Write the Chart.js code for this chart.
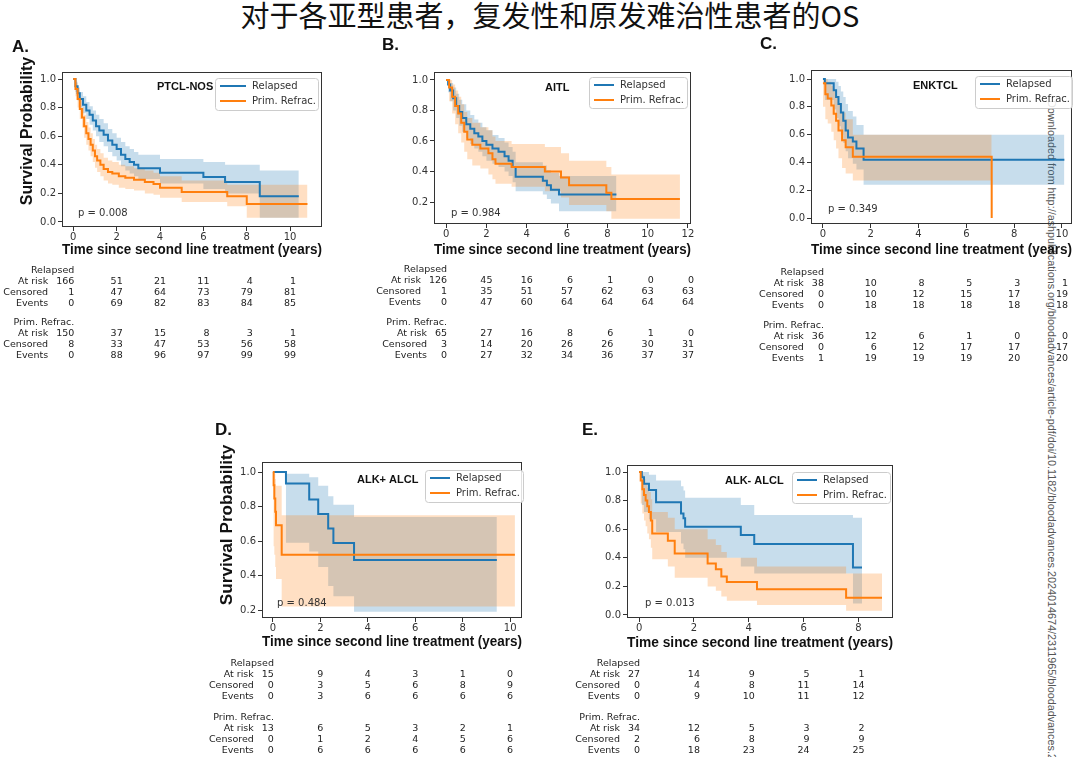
<!DOCTYPE html>
<html>
<head>
<meta charset="utf-8">
<script src="https://cdn.jsdelivr.net/npm/chart.js@4.4.1/dist/chart.umd.min.js"></script>
<style>
  body { margin: 0; background: #fff; width: 1080px; height: 757px; overflow: hidden; position: relative; }
  #title { position: absolute; left: 10px; top: -3px; width: 1080px; text-align: center;
           font: 29px/34px "Noto Sans CJK SC", sans-serif; color: #111; }
  #wm { position: absolute; left: 1058px; top: 100px; transform-origin: 0 0; transform: rotate(90deg);
        white-space: nowrap; font: 10.8px/13px "Liberation Sans", Arial, sans-serif; color: #555; }
  canvas { position: absolute; }
</style>
</head>
<body>
<div id="title">对于各亚型患者，复发性和原发难治性患者的OS</div>
<div id="wm">Downloaded from http://ashpublications.org/bloodadvances/article-pdf/doi/10.1182/bloodadvances.2024014674/2311965/bloodadvances.2</div>
<script>
// ---- ticks ----
const ticksA = [0, 2, 4, 6, 8, 10];
const ticksB = [0, 2, 4, 6, 8, 10, 12];
const ticksE = [0, 2, 4, 6, 8];
const yTicksFull = [0, 0.2, 0.4, 0.6, 0.8, 1.0];
const yTicksUpper = [0.2, 0.4, 0.6, 0.8, 1.0];

// ---- A. PTCL-NOS ----
const relA_t = [0, 0.1, 0.2, 0.3, 0.45, 0.6, 0.75, 0.9, 1.05, 1.2, 1.4, 1.6, 1.8, 2.0, 2.2, 2.4, 2.6, 2.8, 3.0, 4.0, 6.0, 7.0, 8.6, 10.4];
const relA_s = [1.0, 0.95, 0.9, 0.86, 0.82, 0.78, 0.75, 0.71, 0.67, 0.64, 0.61, 0.57, 0.54, 0.51, 0.47, 0.44, 0.42, 0.40, 0.375, 0.345, 0.315, 0.28, 0.18, 0.18];
const relA_hi = [1.0, 0.98, 0.94, 0.91, 0.88, 0.84, 0.81, 0.78, 0.75, 0.72, 0.69, 0.65, 0.62, 0.59, 0.56, 0.53, 0.51, 0.49, 0.47, 0.44, 0.42, 0.40, 0.36, 0.36];
const relA_lo = [1.0, 0.91, 0.85, 0.80, 0.76, 0.72, 0.68, 0.64, 0.60, 0.56, 0.53, 0.49, 0.46, 0.43, 0.39, 0.36, 0.34, 0.32, 0.30, 0.27, 0.23, 0.20, 0.03, 0.03];
const refA_t = [0, 0.1, 0.2, 0.3, 0.4, 0.5, 0.6, 0.7, 0.8, 0.9, 1.0, 1.1, 1.25, 1.4, 1.6, 1.8, 2.1, 2.4, 2.8, 3.3, 3.7, 4.0, 5.0, 7.1, 8.0, 10.8];
const refA_s = [1.0, 0.93, 0.86, 0.79, 0.73, 0.67, 0.62, 0.58, 0.54, 0.50, 0.46, 0.43, 0.40, 0.37, 0.35, 0.34, 0.32, 0.31, 0.295, 0.28, 0.265, 0.24, 0.21, 0.18, 0.125, 0.125];
const refA_hi = [1.0, 0.97, 0.92, 0.86, 0.80, 0.75, 0.70, 0.66, 0.62, 0.58, 0.54, 0.51, 0.48, 0.45, 0.43, 0.42, 0.40, 0.39, 0.375, 0.36, 0.345, 0.32, 0.29, 0.26, 0.26, 0.26];
const refA_lo = [1.0, 0.88, 0.80, 0.72, 0.66, 0.59, 0.54, 0.50, 0.46, 0.42, 0.38, 0.35, 0.32, 0.29, 0.27, 0.26, 0.24, 0.23, 0.22, 0.20, 0.19, 0.17, 0.14, 0.11, 0.03, 0.03];
const relA_risk = [166, 51, 21, 11, 4, 1];
const relA_cens = [1, 47, 64, 73, 79, 81];
const relA_evt = [0, 69, 82, 83, 84, 85];
const refA_risk = [150, 37, 15, 8, 3, 1];
const refA_cens = [8, 33, 47, 53, 56, 58];
const refA_evt = [0, 88, 96, 97, 99, 99];

// ---- B. AITL ----
const relB_t = [0, 0.1, 0.2, 0.35, 0.5, 0.65, 0.8, 1.0, 1.2, 1.4, 1.6, 1.8, 2.0, 2.3, 2.6, 2.9, 3.1, 3.3, 3.45, 4.8, 5.0, 5.2, 5.6, 8.45];
const relB_s = [1.0, 0.97, 0.93, 0.88, 0.83, 0.79, 0.75, 0.71, 0.68, 0.65, 0.63, 0.60, 0.575, 0.55, 0.53, 0.50, 0.47, 0.43, 0.365, 0.34, 0.31, 0.28, 0.25, 0.25];
const relB_hi = [1.0, 1.0, 0.98, 0.95, 0.91, 0.87, 0.84, 0.80, 0.77, 0.74, 0.72, 0.69, 0.67, 0.64, 0.62, 0.59, 0.56, 0.53, 0.46, 0.44, 0.41, 0.39, 0.37, 0.37];
const relB_lo = [1.0, 0.92, 0.86, 0.80, 0.75, 0.70, 0.66, 0.62, 0.58, 0.55, 0.53, 0.50, 0.47, 0.45, 0.43, 0.40, 0.37, 0.33, 0.27, 0.25, 0.22, 0.19, 0.14, 0.14];
const refB_t = [0, 0.15, 0.3, 0.45, 0.6, 0.75, 0.9, 1.05, 1.3, 1.7, 2.1, 2.3, 2.45, 3.25, 4.9, 5.7, 6.1, 7.95, 8.2, 11.6];
const refB_s = [1.0, 0.95, 0.89, 0.83, 0.78, 0.72, 0.66, 0.61, 0.575, 0.55, 0.52, 0.48, 0.45, 0.43, 0.40, 0.36, 0.31, 0.26, 0.22, 0.22];
const refB_hi = [1.0, 1.0, 0.97, 0.93, 0.89, 0.84, 0.79, 0.75, 0.72, 0.69, 0.67, 0.63, 0.60, 0.58, 0.56, 0.52, 0.47, 0.43, 0.38, 0.38];
const refB_lo = [1.0, 0.86, 0.78, 0.71, 0.65, 0.59, 0.53, 0.48, 0.44, 0.42, 0.38, 0.35, 0.32, 0.30, 0.27, 0.23, 0.18, 0.14, 0.09, 0.09];
const relB_risk = [126, 45, 16, 6, 1, 0, 0];
const relB_cens = [1, 35, 51, 57, 62, 63, 63];
const relB_evt = [0, 47, 60, 64, 64, 64, 64];
const refB_risk = [65, 27, 16, 8, 6, 1, 0];
const refB_cens = [3, 14, 20, 26, 26, 30, 31];
const refB_evt = [0, 27, 32, 34, 36, 37, 37];

// ---- C. ENKTCL ----
const relC_t = [0, 0.08, 0.45, 0.55, 0.65, 0.75, 0.85, 0.95, 1.05, 1.25, 1.4, 1.7, 10.1];
const relC_s = [1.0, 0.97, 0.92, 0.87, 0.82, 0.76, 0.70, 0.63, 0.58, 0.55, 0.50, 0.42, 0.42];
const relC_hi = [1.0, 1.0, 1.0, 0.98, 0.95, 0.91, 0.87, 0.82, 0.77, 0.73, 0.67, 0.60, 0.60];
const relC_lo = [1.0, 0.85, 0.78, 0.72, 0.66, 0.60, 0.54, 0.48, 0.43, 0.39, 0.35, 0.24, 0.24];
const refC_t = [0, 0.1, 0.2, 0.35, 0.45, 0.55, 0.65, 0.8, 0.95, 1.25, 7.06];
const refC_s = [0.97, 0.89, 0.86, 0.81, 0.75, 0.70, 0.63, 0.56, 0.51, 0.44, 0.0];
const refC_hi = [1.0, 1.0, 0.98, 0.95, 0.91, 0.87, 0.82, 0.76, 0.71, 0.60, 0.60];
const refC_lo = [0.8, 0.71, 0.68, 0.62, 0.56, 0.50, 0.43, 0.36, 0.32, 0.27, 0.27];
const relC_risk = [38, 10, 8, 5, 3, 1];
const relC_cens = [0, 10, 12, 15, 17, 19];
const relC_evt = [0, 18, 18, 18, 18, 18];
const refC_risk = [36, 12, 6, 1, 0, 0];
const refC_cens = [0, 6, 12, 17, 17, 17];
const refC_evt = [1, 19, 19, 19, 20, 20];

// ---- D. ALK+ ALCL ----
const relD_t = [0, 0.55, 1.53, 1.91, 2.33, 2.55, 3.42, 9.44];
const relD_s = [1.0, 0.933, 0.84, 0.756, 0.672, 0.588, 0.49, 0.49];
const relD_hi = [1.0, 0.99, 0.97, 0.92, 0.86, 0.81, 0.74, 0.74];
const relD_lo = [1.0, 0.59, 0.54, 0.45, 0.34, 0.28, 0.19, 0.19];
const refD_t = [0, 0.03, 0.06, 0.1, 0.13, 0.37, 10.2];
const refD_s = [1.0, 0.923, 0.846, 0.769, 0.692, 0.52, 0.52];
const refD_hi = [1.0, 1.0, 0.99, 0.96, 0.92, 0.75, 0.75];
const refD_lo = [1.0, 0.57, 0.52, 0.45, 0.38, 0.22, 0.22];
const relD_risk = [15, 9, 4, 3, 1, 0];
const relD_cens = [0, 3, 5, 6, 8, 9];
const relD_evt = [0, 3, 6, 6, 6, 6];
const refD_risk = [13, 6, 5, 3, 2, 1];
const refD_cens = [0, 1, 2, 4, 5, 6];
const refD_evt = [0, 6, 6, 6, 6, 6];

// ---- E. ALK- ALCL ----
const relE_t = [0, 0.1, 0.18, 0.36, 0.62, 1.53, 1.62, 1.68, 3.71, 4.2, 7.8, 8.13];
const relE_s = [1.0, 0.963, 0.917, 0.874, 0.788, 0.71, 0.676, 0.617, 0.56, 0.497, 0.333, 0.333];
const relE_hi = [1.0, 1.0, 1.0, 0.98, 0.94, 0.90, 0.87, 0.82, 0.77, 0.70, 0.68, 0.68];
const relE_lo = [1.0, 0.77, 0.72, 0.67, 0.58, 0.50, 0.46, 0.40, 0.34, 0.29, 0.08, 0.08];
const refE_t = [0, 0.06, 0.12, 0.18, 0.24, 0.3, 0.36, 0.43, 0.48, 1.05, 1.3, 2.5, 2.8, 3.0, 3.2, 4.3, 7.55, 8.86];
const refE_s = [1.0, 0.94, 0.88, 0.84, 0.80, 0.76, 0.72, 0.66, 0.57, 0.52, 0.43, 0.36, 0.32, 0.27, 0.23, 0.18, 0.12, 0.12];
const refE_hi = [1.0, 1.0, 0.98, 0.95, 0.92, 0.89, 0.86, 0.81, 0.72, 0.68, 0.60, 0.53, 0.49, 0.44, 0.40, 0.34, 0.29, 0.29];
const refE_lo = [1.0, 0.78, 0.71, 0.66, 0.62, 0.57, 0.53, 0.47, 0.39, 0.34, 0.26, 0.20, 0.17, 0.13, 0.10, 0.07, 0.03, 0.03];
const relE_risk = [27, 14, 9, 5, 1];
const relE_cens = [0, 4, 8, 11, 14];
const relE_evt = [0, 9, 10, 11, 12];
const refE_risk = [34, 12, 5, 3, 2];
const refE_cens = [2, 6, 8, 9, 9];
const refE_evt = [0, 18, 23, 24, 25];

const BLUE = "#1f77b4";
const ORANGE = "#ff7f0e";
const BLUE_BAND = "rgba(31, 119, 180, 0.25)";
const ORANGE_BAND = "rgba(255, 127, 14, 0.25)";
const TICK_FONT = "'DejaVu Sans', sans-serif";
const BOLD_FONT = "'Liberation Sans', Arial, sans-serif";

// layout positions are page pixels
const panels = [
  {
    letter: "A.", letterPos: [12, 52], subtype: "PTCL-NOS", subPos: [157, 87], p: "p = 0.008", pPos: [78, 213],
    box: [0, 30, 345, 340], area: [62, 72, 322, 227], xTitleY: 250, yTitle: [27.5, 131, 15.9],
    xRange: [-0.52, 11.47], yRange: [-0.035, 1.049], xTicks: ticksA, yTicks: yTicksFull,
    legend: [215, 78, 103, 32, 37], tableY: [271, 323],
    rel: [relA_t, relA_s, relA_hi, relA_lo], ref: [refA_t, refA_s, refA_hi, refA_lo],
    relTable: [relA_risk, relA_cens, relA_evt], refTable: [refA_risk, refA_cens, refA_evt]
  },
  {
    letter: "B.", letterPos: [382, 50], subtype: "AITL", subPos: [545, 88], p: "p = 0.984", pPos: [451, 213],
    box: [360, 30, 355, 340], area: [434, 72, 691, 224], xTitleY: 250, yTitle: null,
    xRange: [-0.6, 12.15], yRange: [0.056, 1.052], xTicks: ticksB, yTicks: yTicksUpper,
    legend: [589, 77, 98, 31, 31], tableY: [270, 323],
    rel: [relB_t, relB_s, relB_hi, relB_lo], ref: [refB_t, refB_s, refB_hi, refB_lo],
    relTable: [relB_risk, relB_cens, relB_evt], refTable: [refB_risk, refB_cens, refB_evt]
  },
  {
    letter: "C.", letterPos: [760, 49], subtype: "ENKTCL", subPos: [913, 86], p: "p = 0.349", pPos: [828, 209],
    box: [720, 30, 360, 340], area: [811, 70, 1072, 224], xTitleY: 250, yTitle: null,
    xRange: [-0.5, 10.42], yRange: [-0.043, 1.065], xTicks: ticksA, yTicks: yTicksFull,
    legend: [975, 76, 97, 32, 31], tableY: [273, 326],
    rel: [relC_t, relC_s, relC_hi, relC_lo], ref: [refC_t, refC_s, refC_hi, refC_lo],
    relTable: [relC_risk, relC_cens, relC_evt], refTable: [refC_risk, refC_cens, refC_evt]
  },
  {
    letter: "D.", letterPos: [215, 435], subtype: "ALK+ ALCL", subPos: [357, 480], p: "p = 0.484", pPos: [277, 603],
    box: [200, 410, 340, 347], area: [262, 462, 522, 618], xTitleY: 642, yTitle: [227.5, 525, 17.2],
    xRange: [-0.46, 10.5], yRange: [0.154, 1.058], xTicks: ticksA, yTicks: yTicksUpper,
    legend: [425, 470, 98, 32, 31], tableY: [664, 718],
    rel: [relD_t, relD_s, relD_hi, relD_lo], ref: [refD_t, refD_s, refD_hi, refD_lo],
    relTable: [relD_risk, relD_cens, relD_evt], refTable: [refD_risk, refD_cens, refD_evt]
  },
  {
    letter: "E.", letterPos: [582, 435], subtype: "ALK- ALCL", subPos: [725, 481], p: "p = 0.013", pPos: [645, 603],
    box: [565, 410, 345, 347], area: [627, 465, 893, 618], xTitleY: 643, yTitle: null,
    xRange: [-0.44, 9.26], yRange: [-0.021, 1.049], xTicks: ticksE, yTicks: yTicksFull,
    legend: [792, 472, 98, 31, 31], tableY: [664, 718],
    rel: [relE_t, relE_s, relE_hi, relE_lo], ref: [refE_t, refE_s, refE_hi, refE_lo],
    relTable: [relE_risk, relE_cens, relE_evt], refTable: [refE_risk, refE_cens, refE_evt]
  }
];

function series(times, values) {
  return times.map((t, i) => ({ x: t, y: values[i] }));
}

function lineSet(label, data, color, order) {
  return { label, data, borderColor: color, borderWidth: 2, pointRadius: 0, stepped: true, fill: false, order };
}

function bandSet(data, fill, color, order) {
  return {
    label: "", data, borderColor: "rgba(0,0,0,0)", borderWidth: 1, pointRadius: 0,
    stepped: true, fill, backgroundColor: color, order
  };
}

function drawTable(ctx, xs, cfg, oy) {
  const rowNames = ["At risk", "Censored", "Events"];
  const groups = [["Relapsed", cfg.relTable, cfg.tableY[0]], ["Prim. Refrac.", cfg.refTable, cfg.tableY[1]]];
  ctx.font = "9.5px " + TICK_FONT;
  ctx.fillStyle = "#222";
  ctx.textBaseline = "middle";
  ctx.textAlign = "right";
  const x0 = xs.getPixelForValue(cfg.xTicks[0]) + 1;
  groups.forEach(([name, rows, gy]) => {
    const y = gy - oy;
    ctx.fillText(name, x0, y);
    const w0 = Math.max(...rows.map((r) => ctx.measureText(String(r[0])).width));
    rows.forEach((r, ri) => {
      const ry = y + 11 + ri * 10.7;
      ctx.fillText(rowNames[ri], x0 - w0 - 8, ry);
      ctx.fillText(String(r[0]), x0, ry);
    });
    for (let c = 1; c < cfg.xTicks.length; c += 1) {
      const px = xs.getPixelForValue(cfg.xTicks[c]);
      const w = Math.max(...rows.map((r) => ctx.measureText(String(r[c])).width));
      rows.forEach((r, ri) => ctx.fillText(String(r[c]), px + w / 2, y + 11 + ri * 10.7));
    }
  });
}

function decor(cfg) {
  const [ox, oy] = cfg.box;
  return {
    id: "decor",
    afterDraw(chart) {
      const ctx = chart.ctx;
      const a = chart.chartArea;
      ctx.save();
      // axes frame
      ctx.strokeStyle = "#333";
      ctx.lineWidth = 1;
      ctx.strokeRect(Math.round(a.left) + 0.5, Math.round(a.top) + 0.5,
        Math.round(a.right - a.left) - 1, Math.round(a.bottom - a.top) - 1);

      // legend box
      const [lx, ly, lw, lh, tOff] = cfg.legend.map((v, i) => (i === 0 ? v - ox : i === 1 ? v - oy : v));
      ctx.fillStyle = "rgba(255,255,255,0.85)";
      ctx.strokeStyle = "#cccccc";
      ctx.beginPath();
      ctx.roundRect(lx + 0.5, ly + 0.5, lw, lh, 3);
      ctx.fill();
      ctx.stroke();
      ctx.font = "10px " + TICK_FONT;
      ctx.textBaseline = "middle";
      ctx.textAlign = "left";
      chart.data.datasets.slice(0, 2).forEach((ds, i) => {
        const yy = ly + 8 + i * 15;
        ctx.strokeStyle = ds.borderColor;
        ctx.lineWidth = 2;
        ctx.beginPath();
        ctx.moveTo(lx + 5, yy);
        ctx.lineTo(lx + tOff - 6, yy);
        ctx.stroke();
        ctx.fillStyle = "#333";
        ctx.fillText(ds.label, lx + tOff, yy);
      });

      // subtype label and p-value
      ctx.fillStyle = "#111";
      ctx.font = "bold 11px " + BOLD_FONT;
      ctx.fillText(cfg.subtype, cfg.subPos[0] - ox, cfg.subPos[1] - oy);
      ctx.fillStyle = "#333";
      ctx.font = "10px " + TICK_FONT;
      ctx.fillText(cfg.p, cfg.pPos[0] - ox, cfg.pPos[1] - oy);

      // panel letter
      ctx.fillStyle = "#111";
      ctx.font = "bold 17px " + BOLD_FONT;
      ctx.textBaseline = "alphabetic";
      ctx.fillText(cfg.letter, cfg.letterPos[0] - ox, cfg.letterPos[1] - oy);

      // y axis label
      if (cfg.yTitle) {
        const [tx, ty, size] = cfg.yTitle;
        ctx.save();
        ctx.translate(tx - ox, ty - oy);
        ctx.rotate(-Math.PI / 2);
        ctx.font = "bold " + size + "px " + BOLD_FONT;
        ctx.textAlign = "center";
        ctx.textBaseline = "middle";
        ctx.fillText("Survival Probability", 0, 0);
        ctx.restore();
      }

      drawTable(ctx, chart.scales.x, cfg, oy);
      ctx.restore();
    }
  };
}

function makePanel(cfg) {
  const [bx, by, bw, bh] = cfg.box;
  const [aL, aT, aR, aB] = cfg.area;
  const canvas = document.createElement("canvas");
  canvas.width = bw;
  canvas.height = bh;
  canvas.style.left = bx + "px";
  canvas.style.top = by + "px";
  document.body.appendChild(canvas);

  const xTitleSize = 14.5;
  const xAxisH = cfg.xTitleY - aB + (xTitleSize * 1.2) / 2;
  const yAxisW = aL - bx;
  const padBottom = bh - (aB - by) - xAxisH;

  const axisCommon = {
    type: "linear",
    grid: { drawOnChartArea: false, drawTicks: true, tickLength: 4, color: "#333", tickColor: "#333" },
    border: { display: false }
  };

  return new Chart(canvas.getContext("2d"), {
    type: "line",
    data: {
      datasets: [
        lineSet("Relapsed", series(cfg.rel[0], cfg.rel[1]), BLUE, 1),
        lineSet("Prim. Refrac.", series(cfg.ref[0], cfg.ref[1]), ORANGE, 0),
        bandSet(series(cfg.rel[0], cfg.rel[2]), false, BLUE_BAND, 3),
        bandSet(series(cfg.rel[0], cfg.rel[3]), 2, BLUE_BAND, 3),
        bandSet(series(cfg.ref[0], cfg.ref[2]), false, ORANGE_BAND, 2),
        bandSet(series(cfg.ref[0], cfg.ref[3]), 4, ORANGE_BAND, 2)
      ]
    },
    options: {
      responsive: false,
      animation: false,
      devicePixelRatio: 1,
      layout: { padding: { left: 0, top: aT - by, right: bx + bw - aR, bottom: padBottom } },
      plugins: { legend: { display: false }, tooltip: { enabled: false } },
      scales: {
        x: {
          ...axisCommon,
          min: cfg.xRange[0],
          max: cfg.xRange[1],
          afterFit: (s) => { s.height = xAxisH; },
          afterBuildTicks: (s) => { s.ticks = cfg.xTicks.map((v) => ({ value: v })); },
          ticks: { color: "#333", font: { family: TICK_FONT, size: 10 }, padding: 0, autoSkip: false, maxRotation: 0 },
          title: {
            display: true,
            text: "Time since second line treatment (years)",
            color: "#111",
            padding: 0,
            font: { family: BOLD_FONT, size: xTitleSize, weight: "bold", lineHeight: 1.2 }
          }
        },
        y: {
          ...axisCommon,
          min: cfg.yRange[0],
          max: cfg.yRange[1],
          afterFit: (s) => { s.width = yAxisW; },
          afterBuildTicks: (s) => { s.ticks = cfg.yTicks.map((v) => ({ value: v })); },
          ticks: {
            color: "#333", font: { family: TICK_FONT, size: 10 }, padding: 2, autoSkip: false,
            callback: (v) => Number(v).toFixed(1)
          }
        }
      }
    },
    plugins: [decor(cfg)]
  });
}

panels.forEach(makePanel);
</script>
</body>
</html>
